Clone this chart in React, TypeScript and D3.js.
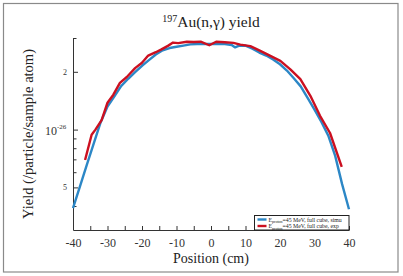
import React, { useEffect, useRef } from 'react';
import * as d3 from 'd3';

// yields in units of 1e-27 /particle/sample atom
const simuPos = [-40, -38, -36, -34, -32, -30, -28, -26, -24, -22, -20, -18, -16, -14, -12, -10, -8, -6, -4, -2, 0, 2, 4, 6, 7, 8, 10, 12, 14, 16, 18, 20, 22, 24, 26, 28, 30, 32, 34, 36, 38, 40];
const simuYield = [3.9, 5.05, 6.55, 8.45, 10.9, 13.2, 14.9, 16.9, 18.4, 19.9, 21.5, 23.0, 24.6, 25.9, 26.6, 27.0, 27.4, 27.8, 27.9, 27.9, 27.9, 27.9, 27.9, 27.6, 26.8, 27.3, 27.4, 26.4, 25.2, 24.3, 23.2, 21.9, 20.3, 18.5, 16.8, 14.65, 12.7, 10.95, 9.3, 7.3, 5.2, 3.85];

const expPos = [-36.5, -34.6, -33.5, -31.7, -30, -28.3, -26.4, -24.4, -22, -20, -18.2, -16, -14.5, -12.5, -11, -9.5, -7, -5, -3, -0.5, 1.5, 4, 6.5, 8.5, 11.4, 14.3, 17.2, 20.1, 23, 25.9, 28.8, 31.6, 34.5, 37.9];
const expYield = [6.95, 9.4, 10.0, 11.2, 13.8, 15.2, 17.5, 18.8, 20.9, 22.3, 24.3, 25.3, 26.1, 27.3, 28.4, 28.2, 28.7, 28.6, 28.7, 27.5, 28.7, 28.5, 28.3, 27.7, 27.2, 25.7, 24.2, 22.8, 20.6, 18.3, 15.0, 11.8, 9.6, 6.4];

const UNIT = 1e-27;
const xTicks = [-40, -35, -30, -25, -20, -15, -10, -5, 0, 5, 10, 15, 20, 25, 30, 35, 40];
const yMajor = [5e-27, 1e-26, 2e-26];

const SERIF = '"Liberation Serif", "DejaVu Serif", serif';
const BLUE = '#2c87c6';
const RED = '#cc1020';

const App = () => {
    const svgRef = useRef<SVGSVGElement>(null);

    useEffect(() => {
        if (!svgRef.current) return;
        const svg = d3.select(svgRef.current);
        svg.selectAll('*').remove();

        const left = 73, right = 349, top = 38, bottom = 230;

        const x = d3.scaleLinear().domain([-40, 40]).range([left, right]);
        const y = d3.scaleLog().domain([3e-27, 3e-26]).range([bottom, top]);

        // outer frame
        svg.append('rect')
            .attr('x', 3.5).attr('y', 3.5)
            .attr('width', 394.5).attr('height', 268.5)
            .attr('fill', 'white')
            .attr('stroke', '#8a8a8a')
            .attr('stroke-width', 1.2);

        // title
        const title = svg.append('text')
            .attr('x', 211).attr('y', 27)
            .attr('text-anchor', 'middle')
            .attr('font-family', SERIF)
            .attr('font-size', 15.5)
            .attr('fill', '#222');
        title.append('tspan').attr('font-size', 10).attr('dy', -5).text('197');
        title.append('tspan').attr('dy', 5).text('Au(n,γ) yield');

        // x axis
        const xAxis = d3.axisBottom(x)
            .tickValues(xTicks)
            .tickSizeInner(-4)
            .tickSizeOuter(0)
            .tickPadding(8)
            .tickFormat(d => (+d % 10 === 0 ? String(d) : ''));
        const gx = svg.append('g')
            .attr('transform', `translate(0,${bottom})`)
            .call(xAxis);
        gx.select('.domain').attr('stroke', '#333');
        gx.selectAll('.tick line').attr('stroke', '#333');
        gx.selectAll('.tick text')
            .filter(function () { return (this as SVGTextElement).textContent === ''; })
            .remove();
        gx.selectAll('.tick text')
            .attr('font-family', SERIF)
            .attr('font-size', 12)
            .attr('fill', '#333');

        // y axis (log)
        const yTicks = y.ticks().filter(v => v > 3.01e-27);
        const yAxis = d3.axisLeft(y)
            .tickValues(yTicks)
            .tickSizeInner(-3.5)
            .tickSizeOuter(0)
            .tickFormat(() => '');
        const gy = svg.append('g')
            .attr('transform', `translate(${left},0)`)
            .call(yAxis);
        gy.select('.domain').attr('stroke', '#333');
        gy.selectAll('.tick text').remove();
        gy.selectAll('.tick line')
            .attr('stroke', '#333')
            .attr('x2', (d: any) => (yMajor.some(m => Math.abs(m - d) / m < 1e-6) ? 5 : 3.5));

        // y tick labels
        svg.append('text')
            .attr('x', 65).attr('y', y(2e-26) + 3)
            .attr('text-anchor', 'middle')
            .attr('font-family', SERIF).attr('font-size', 8).attr('fill', '#333')
            .text('2');
        svg.append('text')
            .attr('x', 65).attr('y', y(5e-27) + 3)
            .attr('text-anchor', 'middle')
            .attr('font-family', SERIF).attr('font-size', 8).attr('fill', '#333')
            .text('5');
        const t10 = svg.append('text')
            .attr('x', 45).attr('y', y(1e-26) + 5)
            .attr('font-family', SERIF).attr('font-size', 12).attr('fill', '#333');
        t10.append('tspan').text('10');
        t10.append('tspan').attr('font-size', 7).attr('dy', -6).text('-26');

        // axis titles
        svg.append('text')
            .attr('x', 211).attr('y', 262.5)
            .attr('text-anchor', 'middle')
            .attr('font-family', SERIF).attr('font-size', 14).attr('fill', '#222')
            .text('Position (cm)');
        svg.append('text')
            .attr('transform', `translate(33,134) rotate(-90)`)
            .attr('text-anchor', 'middle')
            .attr('font-family', SERIF).attr('font-size', 14.5).attr('fill', '#222')
            .text('Yield (/particle/sample atom)');

        // curves
        const line = d3.line<[number, number]>()
            .x(d => x(d[0]))
            .y(d => y(d[1] * UNIT));

        const simu = simuPos.map((p, i) => [p, simuYield[i]] as [number, number]);
        const exp = expPos.map((p, i) => [p, expYield[i]] as [number, number]);

        svg.append('path')
            .datum(simu)
            .attr('d', line)
            .attr('fill', 'none')
            .attr('stroke', BLUE)
            .attr('stroke-width', 2.4)
            .attr('stroke-linejoin', 'round');
        svg.append('path')
            .datum(exp)
            .attr('d', line)
            .attr('fill', 'none')
            .attr('stroke', RED)
            .attr('stroke-width', 2.4)
            .attr('stroke-linejoin', 'round');

        // legend
        const lg = svg.append('g').attr('transform', 'translate(254.5,215.5)');
        lg.append('rect')
            .attr('width', 94.5).attr('height', 14.5)
            .attr('fill', 'white')
            .attr('stroke', '#222')
            .attr('stroke-width', 1);
        const entries = [
            { color: BLUE, label: '=45 MeV, full cube, simu' },
            { color: RED, label: '=45 MeV, full cube, exp' }
        ];
        entries.forEach((e, i) => {
            const ly = 4 + i * 6.5;
            lg.append('line')
                .attr('x1', 3).attr('x2', 12)
                .attr('y1', ly).attr('y2', ly)
                .attr('stroke', e.color)
                .attr('stroke-width', 2.4);
            const t = lg.append('text')
                .attr('x', 14).attr('y', ly + 2)
                .attr('font-family', SERIF).attr('font-size', 5.8).attr('fill', '#222');
            t.append('tspan').text('E');
            t.append('tspan').attr('font-size', 4).attr('dy', 1.5).text('proton');
            t.append('tspan').attr('dy', -1.5).text(e.label);
        });
    }, []);

    return (
        <svg
            ref={svgRef}
            width={403}
            height={276}
            style={{ position: 'fixed', left: 0, top: 0, background: 'white' }}
        />
    );
};

export default App;
